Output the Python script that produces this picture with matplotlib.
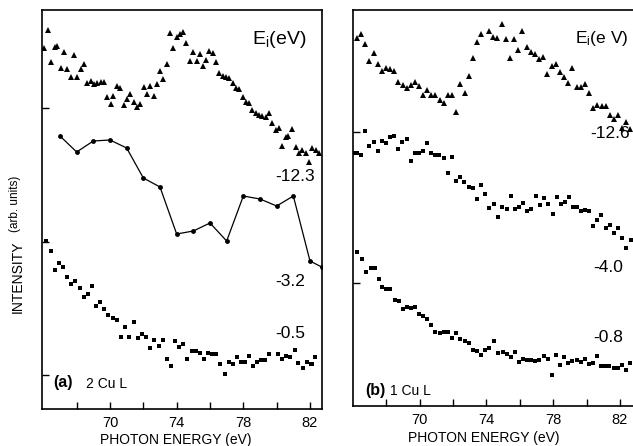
import matplotlib
matplotlib.use('Agg')
import matplotlib.pyplot as plt

plt.rcParams['font.family'] = ['Liberation Sans', 'DejaVu Sans']
plt.rcParams['mathtext.fontset'] = 'custom'
plt.rcParams['mathtext.rm'] = 'Liberation Sans'
plt.rcParams['mathtext.it'] = 'Liberation Sans:italic'

# ---------------- data (photon energy in eV, intensity in arb. units) ----------------
# panel (a) 2 Cu L, Ei = -12.3 eV (triangles)
a_tri_x = [66.05, 66.25, 66.45, 66.68, 66.84, 67.05, 67.26, 67.44, 67.65, 67.86,
           68.04, 68.25, 68.44, 68.64, 68.84, 69.04, 69.24, 69.44, 69.64, 69.80,
           70.04, 70.20, 70.44, 70.62, 70.82, 71.00, 71.20, 71.42, 71.62, 71.81,
           72.02, 72.22, 72.41, 72.62, 72.81, 72.99, 73.19, 73.40, 73.59, 73.79,
           73.99, 74.19, 74.39, 74.55, 74.79, 74.99, 75.19, 75.39, 75.55, 75.75,
           75.95, 76.15, 76.35, 76.54, 76.75, 76.95, 77.14, 77.35, 77.54, 77.74,
           77.95, 78.14, 78.34, 78.54, 78.74, 78.94, 79.14, 79.34, 79.54, 79.74,
           79.94, 80.14, 80.34, 80.54, 80.70, 80.94, 81.14, 81.34, 81.54, 81.74,
           81.93, 82.13, 82.34, 82.53]
a_tri_y = [361, 379, 347, 362, 363, 341, 357, 340, 332, 354,
           332, 340, 345, 326, 328, 325, 326, 327, 327, 312,
           305, 313, 323, 321, 304, 310, 315, 307, 302, 305,
           322, 315, 323, 313, 325, 338, 330, 345, 376, 361,
           372, 375, 377, 366, 348, 357, 348, 355, 343, 349,
           358, 356, 347, 336, 333, 332, 331, 326, 321, 320,
           312, 307, 306, 299, 296, 294, 293, 292, 296, 286,
           279, 281, 263, 272, 273, 280, 262, 256, 259, 256,
           247, 261, 259, 256]

# panel (a) Ei = -3.2 eV (circles joined by line)
a_line_x = [67, 68, 69, 70, 71, 72, 73, 74, 75, 76, 77, 78, 79, 80, 81, 82, 82.7]
a_line_y = [273, 257, 268, 269, 261, 231, 222, 175, 178, 186, 168, 213, 210, 203, 213, 148, 142]

# panel (a) Ei = -0.5 eV (small squares)
a_sq_x = [66.17, 66.45, 66.71, 66.93, 67.19, 67.44, 67.66, 67.92, 68.19, 68.44,
          68.68, 68.94, 69.18, 69.42, 69.66, 69.90, 70.16, 70.42, 70.66, 70.92,
          71.16, 71.42, 71.66, 71.92, 72.16, 72.41, 72.65, 72.92, 73.16, 73.40,
          73.65, 73.89, 74.15, 74.39, 74.63, 74.89, 75.13, 75.39, 75.63, 75.87,
          76.13, 76.37, 76.60, 76.87, 77.11, 77.35, 77.60, 77.84, 78.08, 78.32,
          78.58, 78.82, 79.08, 79.32, 79.56, 80.06, 80.30, 80.56, 80.80, 81.10,
          81.30, 81.58, 81.80, 82.04, 82.14, 82.28]
a_sq_y = [168, 158, 139, 146, 142, 132, 125, 128, 121, 112,
          115, 123, 103, 107, 100, 94, 91, 89, 72, 82,
          72, 87, 71, 75, 72, 61, 69, 63, 69, 50,
          43, 68, 62, 65, 50, 58, 58, 56, 50, 56,
          55, 55, 45, 35, 47, 45, 52, 47, 47, 53,
          43, 47, 49, 49, 55, 55, 50, 53, 52, 59,
          46, 41, 47, 45, 45, 52]

# panel (b) 1 Cu L, Ei = -12.6 eV (triangles)
b_tri_x = [66.24, 66.50, 66.74, 66.98, 67.24, 67.48, 67.72, 67.98, 68.22, 68.48,
           68.72, 68.98, 69.22, 69.46, 69.70, 69.96, 70.20, 70.46, 70.70, 70.94,
           71.20, 71.46, 71.70, 71.94, 72.20, 72.44, 72.70, 72.94, 73.18, 73.42,
           73.66, 74.16, 74.40, 74.64, 74.90, 75.14, 75.40, 75.64, 75.88, 76.12,
           76.40, 76.64, 76.88, 77.16, 77.40, 77.64, 77.90, 78.14, 78.40, 78.64,
           78.90, 79.14, 79.40, 79.64, 79.90, 80.14, 80.40, 80.64, 80.90, 81.14,
           81.38, 81.64, 81.88, 82.12, 82.38, 82.62]
b_tri_y = [368, 372, 362, 345, 353, 342, 335, 338, 337, 335,
           324, 321, 318, 321, 324, 320, 311, 316, 311, 311,
           306, 303, 311, 311, 294, 322, 313, 330, 348, 364,
           372, 375, 369, 368, 382, 367, 348, 367, 356, 375,
           359, 354, 352, 347, 349, 332, 340, 342, 334, 329,
           323, 338, 319, 319, 322, 313, 298, 301, 300, 300,
           291, 287, 291, 278, 284, 277]

# panel (b) Ei = -4.0 eV (dots)
b_mid_x = [65.98, 66.24, 66.50, 66.74, 66.96, 67.24, 67.50, 67.74, 67.98, 68.22,
           68.48, 68.72, 68.96, 69.22, 69.46, 69.70, 69.94, 70.18, 70.44, 70.68,
           70.92, 71.18, 71.46, 71.68, 71.92, 72.18, 72.42, 72.68, 72.94, 73.18,
           73.42, 73.68, 73.92, 74.18, 74.44, 74.68, 74.94, 75.20, 75.44, 75.68,
           75.92, 76.16, 76.42, 76.68, 76.94, 77.20, 77.46, 77.70, 77.96, 78.20,
           78.44, 78.68, 78.92, 79.16, 79.42, 79.68, 79.92, 80.16, 80.40, 80.64,
           80.88, 81.14, 81.38, 81.62, 81.88, 82.12, 82.38, 82.64]
b_mid_y = [253, 253, 251, 275, 260, 264, 255, 265, 263, 269,
           270, 257, 264, 267, 245, 253, 253, 255, 263, 253,
           251, 251, 248, 233, 249, 225, 229, 224, 219, 218,
           207, 221, 212, 198, 202, 189, 199, 197, 210, 197,
           199, 203, 195, 197, 210, 201, 208, 202, 192, 209,
           202, 204, 209, 199, 199, 195, 196, 195, 180, 186,
           191, 178, 181, 173, 178, 168, 158, 166]

# panel (b) Ei = -0.8 eV (small squares)
b_sq_x = [66.24, 66.54, 66.80, 67.06, 67.30, 67.54, 67.76, 68.00, 68.24, 68.52,
          68.76, 69.00, 69.24, 69.48, 69.72, 69.96, 70.20, 70.46, 70.70, 70.94,
          71.20, 71.44, 71.68, 71.94, 72.20, 72.44, 72.70, 72.94, 73.20, 73.44,
          73.70, 73.94, 74.18, 74.46, 74.70, 74.96, 75.20, 75.44, 75.68, 75.92,
          76.16, 76.42, 76.66, 76.92, 77.16, 77.42, 77.68, 77.90, 78.14, 78.40,
          78.64, 78.88, 79.14, 79.40, 79.64, 79.88, 80.14, 80.38, 80.62, 80.86,
          81.12, 81.36, 81.62, 81.86, 82.12, 82.36, 82.60]
b_sq_y = [154, 147, 134, 138, 138, 127, 119, 117, 117, 106,
          105, 97, 99, 98, 99, 92, 90, 87, 81, 74,
          73, 74, 74, 68, 73, 67, 65, 63, 56, 55,
          51, 56, 58, 65, 53, 54, 52, 49, 54, 44,
          47, 46, 46, 45, 46, 50, 47, 31, 51, 41,
          49, 43, 45, 46, 44, 47, 42, 43, 50, 40,
          40, 40, 38, 38, 41, 36, 43]

x_ticks = [68, 70, 72, 74, 76, 78, 80, 82]
x_ticklabels = ['', '70', '', '74', '', '78', '', '82']
a_yticks = [34, 167, 301]
b_yticks = [123, 274]

# ---------------- layout ----------------
W, H = 633, 446
fig = plt.figure(figsize=(W / 100, H / 100), dpi=100)


def rect(l, r, t, b):
    return [l / W, (H - b) / H, (r - l) / W, (b - t) / H]


def ftxt(px, py, s, **kw):
    fig.text(px / W, 1 - py / H, s, **kw)


axA = fig.add_axes(rect(42, 322, 10, 409))
axB = fig.add_axes(rect(353, 633, 10, 406))

for ax in (axA, axB):
    for sp in ax.spines.values():
        sp.set_linewidth(1.2)
        sp.set_color('black')
    ax.set_xticks(x_ticks)
    ax.set_xticklabels(x_ticklabels)
    ax.tick_params(direction='in', length=5, width=1.0, labelsize=10.5, pad=5,
                   colors='black')
    ax.tick_params(axis='y', labelleft=False)

axB.spines['right'].set_visible(False)

axA.set_xlim(65.92, 82.72)
axA.set_ylim(0, 399)
axA.set_yticks(a_yticks)
axB.set_xlim(66.0, 82.78)
axB.set_ylim(0, 396)
axB.set_yticks(b_yticks)

# panel (a)
axA.plot(a_tri_x, a_tri_y, linestyle='none', marker='^', ms=3.8, color='black', mew=0)
axA.plot(a_line_x, a_line_y, '-', marker='o', ms=3.5, lw=0.9, color='black', mew=0)
axA.plot(a_sq_x, a_sq_y, linestyle='none', marker='s', ms=2.4, color='black', mew=0)

# panel (b)
axB.plot(b_tri_x, b_tri_y, linestyle='none', marker='^', ms=3.8, color='black', mew=0)
axB.plot(b_mid_x, b_mid_y, linestyle='none', marker='s', ms=2.3, color='black', mew=0)
axB.plot(b_sq_x, b_sq_y, linestyle='none', marker='s', ms=2.4, color='black', mew=0)

# ---------------- texts ----------------
ftxt(252, 39, r'E$_\mathrm{i}$(eV)', fontsize=14, ha='left', va='center')
ftxt(315, 177, '-12.3', fontsize=12.5, ha='right', va='center')
ftxt(305, 282, '-3.2', fontsize=12.5, ha='right', va='center')
ftxt(305, 334, '-0.5', fontsize=12.5, ha='right', va='center')
ftxt(53, 383, '(a)', fontsize=11.5, fontweight='bold', ha='left', va='center')
ftxt(86, 384, '2 Cu L', fontsize=10, ha='left', va='center')

ftxt(575, 38, r'E$_\mathrm{i}$(e V)', fontsize=12.5, ha='left', va='center')
ftxt(630, 133, '-12.6', fontsize=12.5, ha='right', va='center')
ftxt(623, 268, '-4.0', fontsize=12.5, ha='right', va='center')
ftxt(623, 338, '-0.8', fontsize=12.5, ha='right', va='center')
ftxt(365, 390, '(b)', fontsize=11.5, fontweight='bold', ha='left', va='center')
ftxt(390, 391, '1 Cu L', fontsize=10, ha='left', va='center')

ftxt(176, 440, 'PHOTON ENERGY (eV)', fontsize=10, ha='center', va='center')
ftxt(484, 438, 'PHOTON ENERGY (eV)', fontsize=10, ha='center', va='center')

ftxt(18, 277, 'INTENSITY', fontsize=10, rotation=90, ha='center', va='center')
ftxt(15, 204, '(arb. units)', fontsize=8.5, rotation=90, ha='center', va='center')

fig.savefig('out.png', dpi=100)
